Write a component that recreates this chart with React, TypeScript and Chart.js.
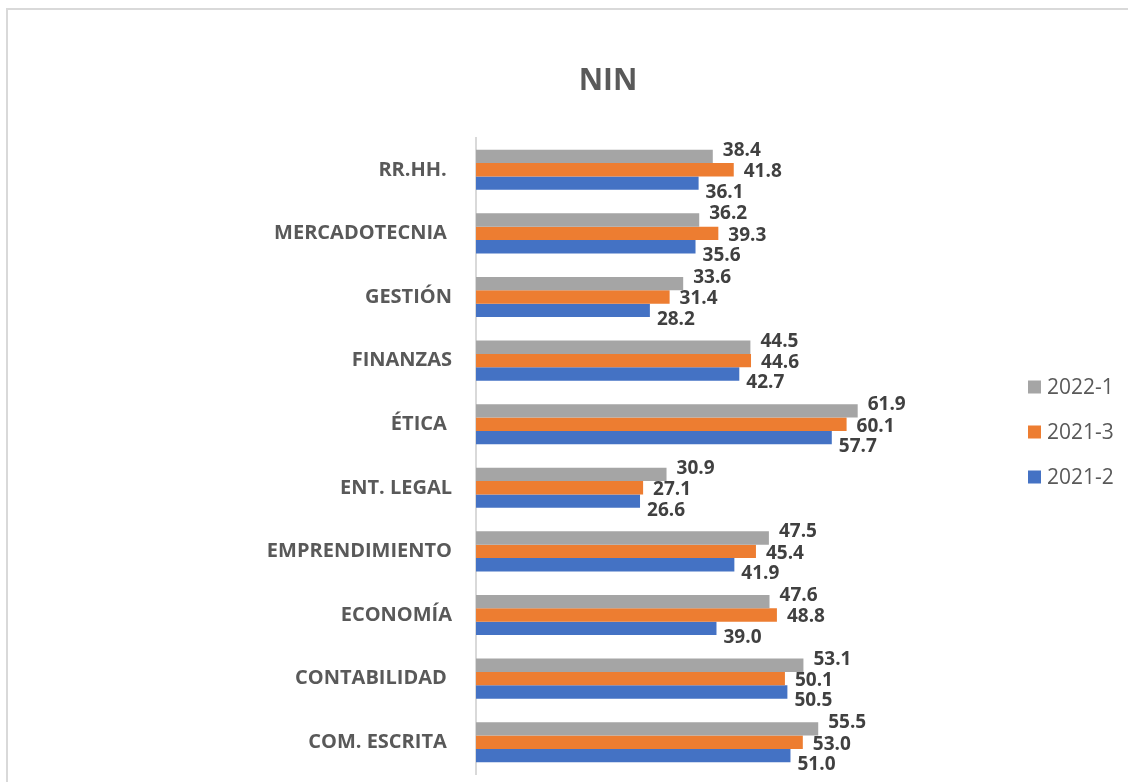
import React, { useEffect, useRef } from "react";
import { Chart, registerables } from "chart.js";

Chart.register(...registerables);

const categories = [
  "RR.HH. ",
  "MERCADOTECNIA ",
  "GESTIÓN",
  "FINANZAS",
  "ÉTICA ",
  "ENT. LEGAL",
  "EMPRENDIMIENTO",
  "ECONOMÍA",
  "CONTABILIDAD ",
  "COM. ESCRITA ",
];
const series2022_1 = [38.4, 36.2, 33.6, 44.5, 61.9, 30.9, 47.5, 47.6, 53.1, 55.5];
const series2021_3 = [41.8, 39.3, 31.4, 44.6, 60.1, 27.1, 45.4, 48.8, 50.1, 53.0];
const series2021_2 = [36.1, 35.6, 28.2, 42.7, 57.7, 26.6, 41.9, 39.0, 50.5, 51.0];
const seriesNames = ["2022-1", "2021-3", "2021-2"];
const title = "NIN";

const COLORS = ["#A5A5A5", "#ED7D31", "#4472C4"];
const LABEL_OFFSETS = [
  { dx: 10, dy: -6 },
  { dx: 10, dy: 2 },
  { dx: 7, dy: 9 },
];
const FONT = "'Open Sans', 'DejaVu Sans', sans-serif";

const dataLabelsPlugin = {
  id: "valueLabels",
  afterDatasetsDraw(chart: any) {
    const ctx = chart.ctx;
    ctx.save();
    ctx.font = `bold 19px ${FONT}`;
    ctx.fillStyle = "#404040";
    ctx.textAlign = "left";
    ctx.textBaseline = "middle";
    chart.data.datasets.forEach((ds: any, i: number) => {
      const meta = chart.getDatasetMeta(i);
      const off = LABEL_OFFSETS[i];
      meta.data.forEach((el: any, j: number) => {
        ctx.fillText(Number(ds.data[j]).toFixed(1), el.x + off.dx, el.y + off.dy);
      });
    });
    ctx.restore();
  },
};

const legendPlugin = {
  id: "sideLegend",
  afterDraw(chart: any) {
    const ctx = chart.ctx;
    ctx.save();
    ctx.font = `21px ${FONT}`;
    ctx.textAlign = "left";
    ctx.textBaseline = "middle";
    const centers = [387, 432, 477];
    chart.data.datasets.forEach((ds: any, i: number) => {
      const y = centers[i];
      ctx.fillStyle = ds.backgroundColor;
      ctx.fillRect(1028, y - 6.5, 13, 13);
      ctx.fillStyle = "#595959";
      ctx.fillText(ds.label, 1047, y + 1);
    });
    ctx.restore();
  },
};

const titlePlugin = {
  id: "centerTitle",
  afterDraw(chart: any) {
    const ctx = chart.ctx;
    ctx.save();
    ctx.font = `bold 30px ${FONT}`;
    ctx.fillStyle = "#595959";
    ctx.textAlign = "center";
    ctx.textBaseline = "middle";
    ctx.fillText(title, 608, 81);
    ctx.restore();
  },
};

export default function App() {
  const ref = useRef<HTMLCanvasElement>(null);

  useEffect(() => {
    if (!ref.current) return;
    const chart = new Chart(ref.current, {
      type: "bar",
      data: {
        labels: categories,
        datasets: [
          { label: seriesNames[0], data: series2022_1, backgroundColor: COLORS[0] },
          { label: seriesNames[1], data: series2021_3, backgroundColor: COLORS[1] },
          { label: seriesNames[2], data: series2021_2, backgroundColor: COLORS[2] },
        ],
      },
      options: {
        indexAxis: "y",
        responsive: false,
        animation: false,
        devicePixelRatio: 1,
        datasets: {
          bar: { barPercentage: 1, categoryPercentage: 0.63 },
        },
        layout: { padding: { top: 138, bottom: 8, left: 206, right: 118 } },
        plugins: {
          legend: { display: false },
          title: { display: false },
          tooltip: { enabled: false },
        },
        scales: {
          x: { display: false, min: 0, max: 86.6 },
          y: {
            afterFit: (scale: any) => {
              scale.width = 270;
              scale.paddingTop = 0;
              scale.paddingBottom = 0;
            },
            grid: { display: false, drawTicks: false },
            border: { display: true, color: "#D9D9D9", width: 2 },
            ticks: {
              padding: 24,
              color: "#595959",
              font: { family: FONT, size: 20, weight: "bold" },
            },
          },
        },
      },
      plugins: [dataLabelsPlugin, legendPlugin, titlePlugin],
    });
    return () => chart.destroy();
  }, []);

  return (
    <div style={{ position: "fixed", inset: 0, overflow: "hidden", background: "#fff" }}>
      <div
        style={{
          position: "absolute",
          left: 6,
          top: 8,
          width: 1300,
          height: 1000,
          border: "2px solid #D9D9D9",
          boxSizing: "border-box",
        }}
      />
      <canvas
        ref={ref}
        width={1128}
        height={782}
        style={{ position: "absolute", left: 0, top: 0, width: 1128, height: 782 }}
      />
    </div>
  );
}
